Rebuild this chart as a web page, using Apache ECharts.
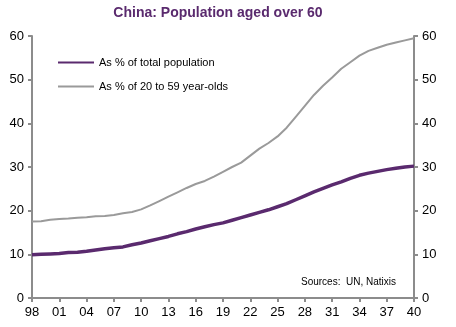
<!DOCTYPE html>
<html>
<head>
<meta charset="utf-8">
<script src="https://cdn.jsdelivr.net/npm/echarts@6/dist/echarts.min.js"></script>
<style>
  html, body { margin: 0; padding: 0; background: #fff; }
  #container { width: 456px; height: 327px; }
</style>
</head>
<body>
<div id="container"></div>
<script type="text/javascript">
    // years 1998 .. 2040, labelled as two digits
    var years = ['98','99','00','01','02','03','04','05','06','07','08','09','10','11','12','13','14','15','16','17','18','19','20',
                 '21','22','23','24','25','26','27','28','29','30','31','32','33','34','35','36','37','38','39','40'];

    // As % of total population
    var pctTotal = [9.9,10.0,10.1,10.2,10.4,10.5,10.7,11.0,11.3,11.5,11.7,12.2,12.6,13.1,13.6,14.1,14.7,15.2,15.8,16.3,16.8,17.2,17.8,
                    18.4,19.0,19.6,20.2,20.9,21.6,22.5,23.4,24.3,25.1,25.9,26.6,27.4,28.1,28.6,29.0,29.4,29.7,30.0,30.2];

    // As % of 20 to 59 year-olds
    var pctWorking = [17.5,17.6,17.9,18.1,18.2,18.4,18.5,18.7,18.8,19.0,19.4,19.7,20.3,21.2,22.2,23.2,24.2,25.2,26.1,26.8,27.8,28.9,30.0,
                      31.0,32.6,34.2,35.5,37.0,39.0,41.5,44.0,46.5,48.6,50.5,52.5,54.0,55.5,56.6,57.3,58.0,58.5,59.0,59.5];

    var dom = document.getElementById("container");
    var myChart = echarts.init(dom);

    var axisGrey = '#8c8c8c';
    var font = 'Liberation Sans, Arial, sans-serif';

    var yAxisCommon = {
        type: 'value',
        min: 0,
        max: 60,
        interval: 10,
        splitLine: { show: false },
        axisLine: { show: true, lineStyle: { color: axisGrey, width: 2 } },
        axisTick: { show: true, length: 4, lineStyle: { color: axisGrey, width: 2 } },
        axisLabel: { color: '#000', fontSize: 13, fontFamily: font, margin: 8 }
    };

    var option = {
        animation: false,
        title: {
            text: 'China: Population aged over 60',
            left: 213,
            textAlign: 'center',
            top: 1,
            textStyle: { color: '#5a2a6e', fontSize: 14, fontWeight: 'bold', fontFamily: font }
        },
        legend: {
            orient: 'vertical',
            left: 52,
            top: 52,
            itemWidth: 36,
            itemHeight: 10,
            itemGap: 13,
            itemStyle: { opacity: 0 },   // hide the circle the line legend icon adds
            textStyle: { color: '#000', fontSize: 11, fontFamily: font },
            data: ['As % of total population', 'As % of 20 to 59 year-olds']
        },
        grid: { left: 32, right: 42, top: 36, bottom: 29 },
        xAxis: {
            type: 'category',
            data: years,
            boundaryGap: false,
            axisLine: { lineStyle: { color: axisGrey, width: 2 } },
            axisTick: { interval: 2, length: 4, lineStyle: { color: axisGrey, width: 2 } },
            axisLabel: { interval: 2, color: '#000', fontSize: 13, fontFamily: font, margin: 8 }
        },
        yAxis: [
            Object.assign({ position: 'left' }, yAxisCommon),
            Object.assign({ position: 'right' }, yAxisCommon)
        ],
        graphic: [{
            type: 'text',
            left: 301,
            top: 277,
            style: { text: 'Sources:  UN, Natixis', fill: '#000', fontSize: 10, fontFamily: font }
        }],
        series: [
            {
                name: 'As % of total population',
                type: 'line',
                data: pctTotal,
                symbol: 'none',
                lineStyle: { color: '#5a2a6e', width: 3.5 },
                itemStyle: { color: '#5a2a6e' },
                z: 3
            },
            {
                name: 'As % of 20 to 59 year-olds',
                type: 'line',
                data: pctWorking,
                symbol: 'none',
                lineStyle: { color: '#9a9a9a', width: 2 },
                itemStyle: { color: '#9a9a9a' },
                z: 2
            }
        ]
    };

    if (option && typeof option === 'object') {
        myChart.setOption(option);
    }
</script>
</body>
</html>
